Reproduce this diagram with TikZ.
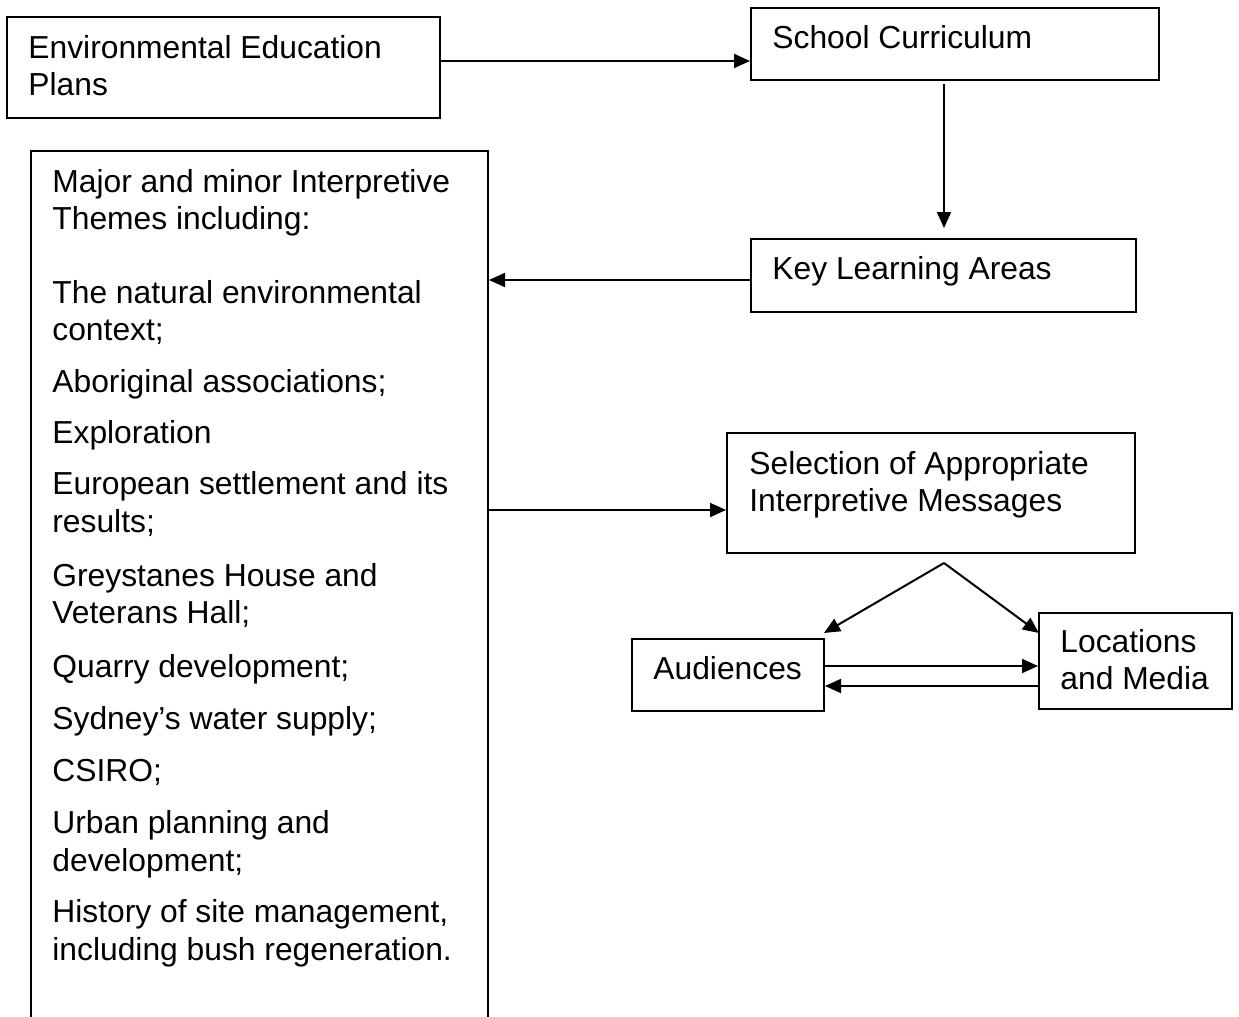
\documentclass[tikz,border=0pt]{standalone}
\usepackage{fontspec}
\setmainfont{Liberation Sans}
\usetikzlibrary{arrows.meta,fit}
\begin{document}
\begin{tikzpicture}[x=0.5pt,y=-0.5pt,
  box/.style={draw=black,line width=1pt,inner sep=0pt,rectangle},
  txt/.style={anchor=base west,inner sep=0pt,font=\fontsize{15.9pt}{18.5pt}\selectfont},
  arr/.style={draw=black,line width=1pt,-{Triangle[length=8pt,width=7pt]}}]
\useasboundingbox (0,0) rectangle (1239,1017);
\fill[white] (0,0) rectangle (1239,1017);
\clip (0,0) rectangle (1239,1017);
% boxes
\node[box,fit={(7,17)(440,118)}] (eep) {};
\node[box,fit={(751,8)(1159,80)}] (sc) {};
\node[box,fit={(751,239)(1136,312)}] (kla) {};
\node[box,fit={(31,151)(488,1060)}] (big) {};
\node[box,fit={(727,433)(1135,553)}] (sel) {};
\node[box,fit={(632,639)(824,711)}] (aud) {};
\node[box,fit={(1039,613)(1232,709)}] (loc) {};
% texts
\node[txt] (t1) at (28,58) {Environmental Education};
\node[txt] (t2) at (28,95) {Plans};
\node[txt] (t3) at (772,48) {School Curriculum};
\node[txt] (t4) at (772,279) {Key Learning Areas};
\node[txt] (t5) at (749,474) {Selection of Appropriate};
\node[txt] (t6) at (749,511) {Interpretive Messages};
\node[txt] (t7) at (653,679) {Audiences};
\node[txt] (t8) at (1060,652) {Locations};
\node[txt] (t9) at (1060,689) {and Media};
\node[txt] (b1) at (52,192) {Major and minor Interpretive};
\node[txt] (b2) at (52,229) {Themes including:};
\node[txt] (b3) at (52,303) {The natural environmental};
\node[txt] (b4) at (52,340) {context;};
\node[txt] (b5) at (52,392) {Aboriginal associations;};
\node[txt] (b6) at (52,443) {Exploration};
\node[txt] (b7) at (52,494) {European settlement and its};
\node[txt] (b8) at (52,532) {results;};
\node[txt] (b9) at (52,586) {Greystanes House and};
\node[txt] (b10) at (52,623) {Veterans Hall;};
\node[txt] (b11) at (52,677) {Quarry development;};
\node[txt] (b12) at (52,729) {Sydney’s water supply;};
\node[txt] (b13) at (52,781) {CSIRO;};
\node[txt] (b14) at (52,833) {Urban planning and};
\node[txt] (b15) at (52,871) {development;};
\node[txt] (b16) at (52,922) {History of site management,};
\node[txt] (b17) at (52,960) {including bush regeneration.};
% connector points
\coordinate (c1) at (440,61);
\coordinate (v1) at (944,84);
\coordinate (v2) at (944,228);
\coordinate (c2) at (751,280);
\coordinate (c3) at (488,510);
\coordinate (apex) at (944,563);
\coordinate (ta) at (824,633);
\coordinate (tl) at (1039,633);
\coordinate (c4) at (824,666);
\coordinate (c5) at (1039,686);
% connectors
\draw[arr] (c1) -- (c1 -| sc.west);
\draw[arr] (v1) -- (v2);
\draw[arr] (c2) -- (c2 -| big.east);
\draw[arr] (c3) -- (c3 -| sel.west);
\draw[arr] (apex) -- (ta);
\draw[arr] (apex) -- (tl);
\draw[arr] (c4) -- (c4 -| loc.west);
\draw[arr] (c5) -- (c5 -| aud.east);
\end{tikzpicture}
\end{document}
